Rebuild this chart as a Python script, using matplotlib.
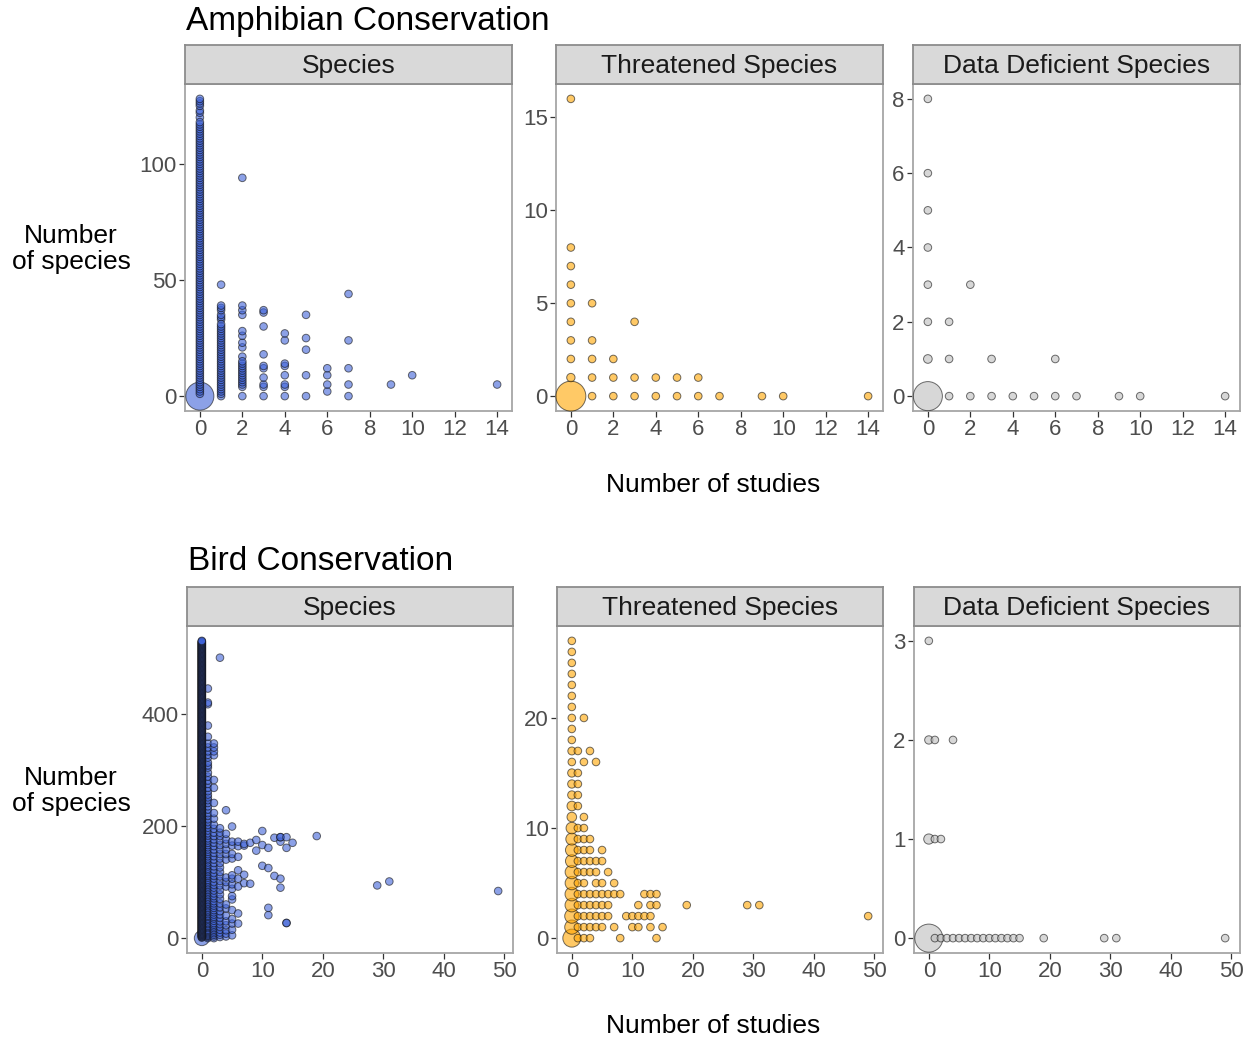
import matplotlib
matplotlib.use("Agg")
import matplotlib.pyplot as plt
import numpy as np

plt.rcParams['font.family'] = ['Liberation Sans', 'DejaVu Sans']

# ---------------- data (number of studies, number of species) ----------------
# solid columns: (studies, first, last) -> every integer present
amph_sp_runs = [(0, 0, 118), (1, 0, 31), (2, 4, 15)]
amph_sp_x = [0, 0, 0, 0, 0, 0, 0,
             1, 1, 1, 1, 1, 1, 1,
             2, 2, 2, 2, 2, 2, 2, 2, 2, 2,
             3, 3, 3, 3, 3, 3, 3, 3, 3, 3,
             4, 4, 4, 4, 4, 4, 4, 4,
             5, 5, 5, 5, 5,
             6, 6, 6, 6,
             7, 7, 7, 7, 7,
             9, 10, 14]
amph_sp_y = [120, 122, 123, 125, 126, 127, 128,
             33, 34, 35, 37, 38, 39, 48,
             0, 17, 21, 23, 26, 28, 35, 37, 39, 94,
             0, 4, 5, 8, 12, 13, 18, 30, 36, 37,
             0, 4, 5, 9, 13, 14, 24, 27,
             0, 9, 20, 25, 35,
             2, 5, 9, 12,
             0, 5, 12, 24, 44,
             5, 9, 5]
amph_sp_big = [(0, 0, 13.6)]  # (studies, species, count)

amph_thr_x = [0, 0, 0, 0, 0, 0, 0, 0, 0, 0, 1, 1, 1, 1, 1, 2, 2, 2, 3, 3, 3,
              4, 4, 5, 5, 6, 6, 7, 9, 10, 14]
amph_thr_y = [0, 1, 2, 3, 4, 5, 6, 7, 8, 16, 0, 1, 2, 3, 5, 0, 1, 2, 0, 1, 4,
              0, 1, 0, 1, 0, 1, 0, 0, 0, 0]
amph_thr_big = [(0, 0, 15.5), (0, 1, 1.2)]

amph_dd_x = [0, 0, 0, 0, 0, 0, 0, 0, 1, 1, 1, 2, 2, 3, 3, 4, 5, 6, 6, 7, 9, 10, 14]
amph_dd_y = [0, 1, 2, 3, 4, 5, 6, 8, 0, 1, 2, 0, 3, 0, 1, 0, 0, 0, 1, 0, 0, 0, 0]
amph_dd_big = [(0, 0, 14.6), (0, 1, 1.3)]

bird_sp_runs = [(0, 0, 530)]
bird_sp_cols = {
    1: [0, 2, 4, 5, 7, 9, 11, 13, 15, 18, 20, 22, 25, 27, 30, 33, 35, 38, 40, 43,
        46, 48, 51, 54, 57, 60, 62, 65, 68, 71, 74, 77, 80, 83, 86, 89, 92, 95,
        98, 101, 104, 108, 111, 114, 118, 121, 124, 128, 131, 135, 139, 142, 146,
        150, 154, 158, 162, 166, 170, 174, 178, 183, 187, 192, 197, 202, 207, 212,
        218, 223, 229, 235, 241, 246, 251, 256, 262, 268, 275, 281, 288, 295, 304,
        308, 313, 322, 327, 333, 340, 347, 359, 379, 417, 420, 445],
    2: [0, 3, 6, 9, 12, 15, 18, 21, 24, 27, 31, 35, 38, 42, 46, 50, 54, 58, 62, 66,
        71, 75, 80, 85, 90, 95, 100, 106, 111, 116, 122, 128, 134, 140, 146, 152,
        158, 164, 170, 176, 182, 188, 195, 202, 213, 223, 241, 268, 282, 326, 333,
        340, 347],
    3: [2, 6, 10, 15, 20, 25, 30, 36, 42, 48, 55, 62, 70, 78, 86, 94, 102, 110, 118,
        126, 134, 142, 150, 158, 166, 174, 182, 188, 196, 500],
    4: [3, 8, 14, 23, 30, 40, 53, 60, 92, 100, 108, 140, 150, 158, 168, 176, 186, 228],
    5: [5, 15, 26, 34, 50, 69, 75, 88, 96, 106, 112, 142, 150, 165, 172, 199],
    6: [26, 44, 92, 106, 121, 145, 164, 172],
    7: [98, 113, 165, 168],
    8: [97, 170],
    9: [156, 175],
    10: [129, 166, 191],
    11: [41, 54, 125, 161],
    12: [111, 179],
    13: [90, 106, 172, 180, 180],
    14: [27, 27, 161, 180],
    15: [170],
    19: [182],
    29: [94],
    31: [101],
    49: [84],
}
bird_sp_big = [(0, 0, 3.9)]

# threatened birds: x=0 column holds every value 0..27, counts below
bird_thr_x0_n = [5.6, 3.5, 3.5, 3.2, 3.2, 3.1, 3.1, 2.8, 2.8, 2.5, 2.3, 1.6, 1.6,
                 1.2, 1.2, 1.2, 1.0, 1.1, 1, 1, 1, 1, 1, 1, 1, 1, 1, 1]
bird_thr_rows = {
    20: [2], 17: [1, 3], 16: [2, 4], 15: [1], 14: [1], 13: [1], 12: [1], 11: [2],
    10: [1, 2], 9: [1, 2, 3], 8: [1, 2, 3, 5], 7: [1, 2, 3, 4, 5],
    6: [1, 2, 3, 4, 6], 5: [1, 2, 4, 5, 7],
    4: [1, 2, 3, 4, 5, 6, 7, 8, 12, 13, 14],
    3: [1, 2, 3, 4, 5, 6, 11, 13, 14, 19, 29, 31],
    2: [1, 2, 3, 4, 5, 6, 9, 10, 11, 12, 13, 49],
    1: [1, 2, 3, 4, 5, 7, 10, 11, 13, 15],
    0: [1, 2, 3, 8, 14],
}

bird_dd_x = [0, 0, 1, 4, 0, 1, 2,
             0, 1, 2, 3, 4, 5, 6, 7, 8, 9, 10, 11, 12, 13, 14, 15, 19, 29, 31, 49]
bird_dd_y = [3, 2, 2, 2, 1, 1, 1,
             0, 0, 0, 0, 0, 0, 0, 0, 0, 0, 0, 0, 0, 0, 0, 0, 0, 0, 0, 0]
bird_dd_big = [(0, 0, 13.6), (0, 1, 1.8), (0, 2, 1.2)]

panel_titles = ["Species", "Threatened Species", "Data Deficient Species"]
amph_xticks = [0, 2, 4, 6, 8, 10, 12, 14]
bird_xticks = [0, 10, 20, 30, 40, 50]

BLUE, ORANGE, GREY = '#3f63d8', '#ffa500', '#bdbdbd'

# ---------------- figure ----------------
W, H = 1251, 1040
fig = plt.figure(figsize=(W / 100, H / 100), dpi=100)


def px_axes(x0, y0, x1, y1):
    return fig.add_axes([x0 / W, 1 - y1 / H, (x1 - x0) / W, (y1 - y0) / H])


def collect(xs, ys, big, runs=()):
    xs, ys = list(xs), list(ys)
    for x, a, b in runs:
        xs += [x] * (b - a + 1)
        ys += list(range(a, b + 1))
    n = [1.0] * len(xs)
    for bx, by, bn in big:
        for i in range(len(xs)):
            if xs[i] == bx and ys[i] == by:
                n[i] = bn
                break
    return np.array(xs), np.array(ys), np.array(n)


def panel(box, title, xs, ys, ns, color, xticks, yticks):
    x0, y0, x1, y1 = box
    ax = px_axes(x0, y0, x1, y1)
    strip = px_axes(x0, y0 - 39, x1, y0)
    strip.set_facecolor('#d9d9d9')
    strip.set_xticks([])
    strip.set_yticks([])
    for sp in strip.spines.values():
        sp.set_color('#8c8c8c')
        sp.set_linewidth(1.3)
    strip.text(0.5, 0.45, title, ha='center', va='center', fontsize=19,
               color='#1a1a1a', transform=strip.transAxes)

    order = np.argsort(-ns, kind='stable')
    ax.scatter(xs[order], ys[order], s=30 * ns[order], c=color, alpha=0.6,
               edgecolors='#111111', linewidths=0.7, zorder=3, clip_on=False)
    xr = xs.max() - xs.min()
    yr = ys.max() - ys.min()
    ax.set_xlim(xs.min() - 0.05 * xr, xs.max() + 0.05 * xr)
    ax.set_ylim(ys.min() - 0.05 * yr, ys.max() + 0.05 * yr)
    ax.set_xticks(xticks)
    ax.set_yticks(yticks)
    ax.tick_params(labelsize=16, labelcolor='#4d4d4d', color='#333333',
                   length=4, width=0.9, pad=2)
    for sp in ax.spines.values():
        sp.set_color('#a6a6a6')
        sp.set_linewidth(1.3)
    return ax


# amphibians
top = [(185, 84, 512, 411), (556, 84, 883, 411), (913, 84, 1240, 411)]
d = collect(amph_sp_x, amph_sp_y, amph_sp_big, amph_sp_runs)
panel(top[0], panel_titles[0], *d, BLUE, amph_xticks, [0, 50, 100])
d = collect(amph_thr_x, amph_thr_y, amph_thr_big)
panel(top[1], panel_titles[1], *d, ORANGE, amph_xticks, [0, 5, 10, 15])
d = collect(amph_dd_x, amph_dd_y, amph_dd_big)
panel(top[2], panel_titles[2], *d, GREY, amph_xticks, [0, 2, 4, 6, 8])

# birds
bot = [(187, 626, 513, 953), (557, 626, 883, 953), (914, 626, 1240, 953)]
bx, by = [], []
for k, vals in bird_sp_cols.items():
    bx += [k] * len(vals)
    by += vals
d = collect(bx, by, bird_sp_big, bird_sp_runs)
panel(bot[0], panel_titles[0], *d, BLUE, bird_xticks, [0, 200, 400])

tx = [0] * len(bird_thr_x0_n)
ty = list(range(len(bird_thr_x0_n)))
tn = list(bird_thr_x0_n)
for yv, xv in bird_thr_rows.items():
    tx += xv
    ty += [yv] * len(xv)
    tn += [1.0] * len(xv)
panel(bot[1], panel_titles[1], np.array(tx), np.array(ty), np.array(tn), ORANGE,
      bird_xticks, [0, 10, 20])
d = collect(bird_dd_x, bird_dd_y, bird_dd_big)
panel(bot[2], panel_titles[2], *d, GREY, bird_xticks, [0, 1, 2, 3])

# titles and axis labels
fig.text(186 / W, 1 - 30 / H, "Amphibian Conservation", fontsize=24,
         ha='left', va='baseline', color='black')
fig.text(188 / W, 1 - 570 / H, "Bird Conservation", fontsize=24,
         ha='left', va='baseline', color='black')
for yc in (249, 791):
    fig.text(71 / W, 1 - yc / H, "Number\nof species", fontsize=19,
             ha='center', va='center', multialignment='center', linespacing=1.15)
for yc in (485, 1026):
    fig.text(713 / W, 1 - yc / H, "Number of studies", fontsize=19,
             ha='center', va='center')

fig.savefig("out.png", dpi=100)
